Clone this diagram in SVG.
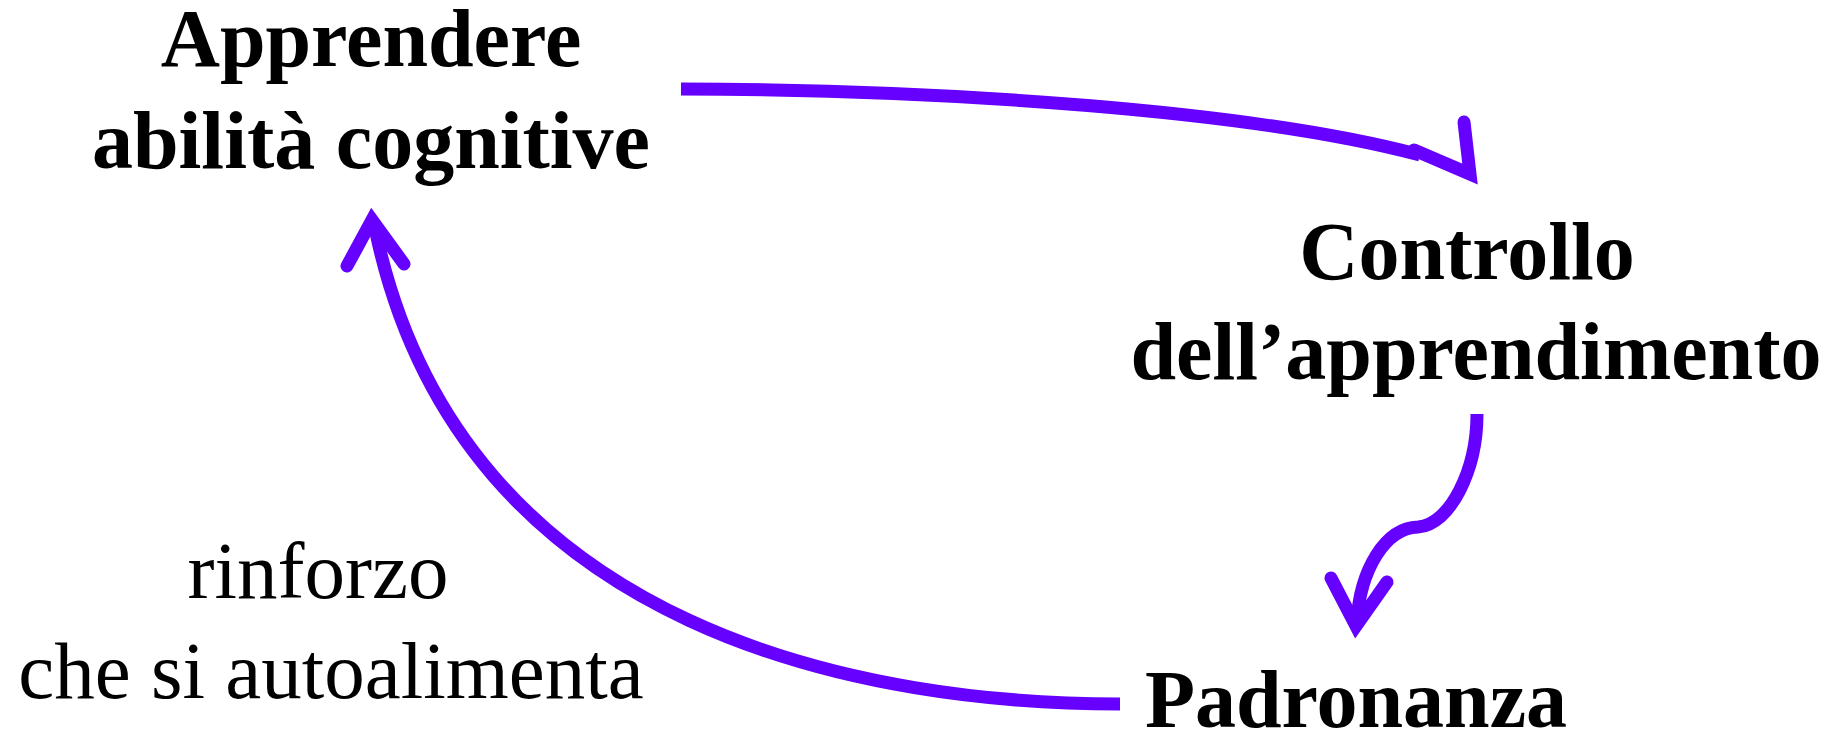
<svg xmlns="http://www.w3.org/2000/svg" width="1845" height="737" viewBox="0 0 1845 737">
<style>
.node{font-family:"Liberation Serif","Times New Roman",serif;font-weight:bold;font-size:82px;fill:#000;text-anchor:middle}
.lbl{font-family:"Liberation Serif","Times New Roman",serif;font-size:81px;fill:#000;text-anchor:middle}
.shaft{fill:none;stroke:#6600ff;stroke-width:13;stroke-linecap:butt}
.head{fill:none;stroke:#6600ff;stroke-width:13;stroke-linecap:round;stroke-linejoin:miter;stroke-miterlimit:10}
</style>
<rect width="1845" height="737" fill="#fff"/>
<g id="node-apprendere">
<text class="node" x="371" y="66">Apprendere</text>
<text class="node" x="371" y="168">abilità cognitive</text>
</g>
<g id="node-controllo">
<text class="node" x="1467" y="279">Controllo</text>
<text class="node" x="1476" y="379">dell’apprendimento</text>
</g>
<g id="node-padronanza">
<text class="node" x="1356" y="727">Padronanza</text>
</g>
<g id="label-rinforzo">
<text class="lbl" x="318" y="598">rinforzo</text>
<text class="lbl" x="331" y="698">che si autoalimenta</text>
</g>
<g id="connectors">
<path class="shaft" d="M681,89 C950,90 1250,110 1420,155"/>
<path class="head" d="M1464,122 L1470,174 L1414,150"/>
<path class="shaft" d="M1477,414 C1477,470 1450,525 1418,527 C1385,528 1360,570 1357,622"/>
<path class="head" d="M1331,578 L1356,626 L1387,582"/>
<path class="shaft" d="M1120,704 C880,704 460,640 375,228"/>
<path class="head" d="M347,266 L372,220 L404,264"/>
</g>
</svg>
